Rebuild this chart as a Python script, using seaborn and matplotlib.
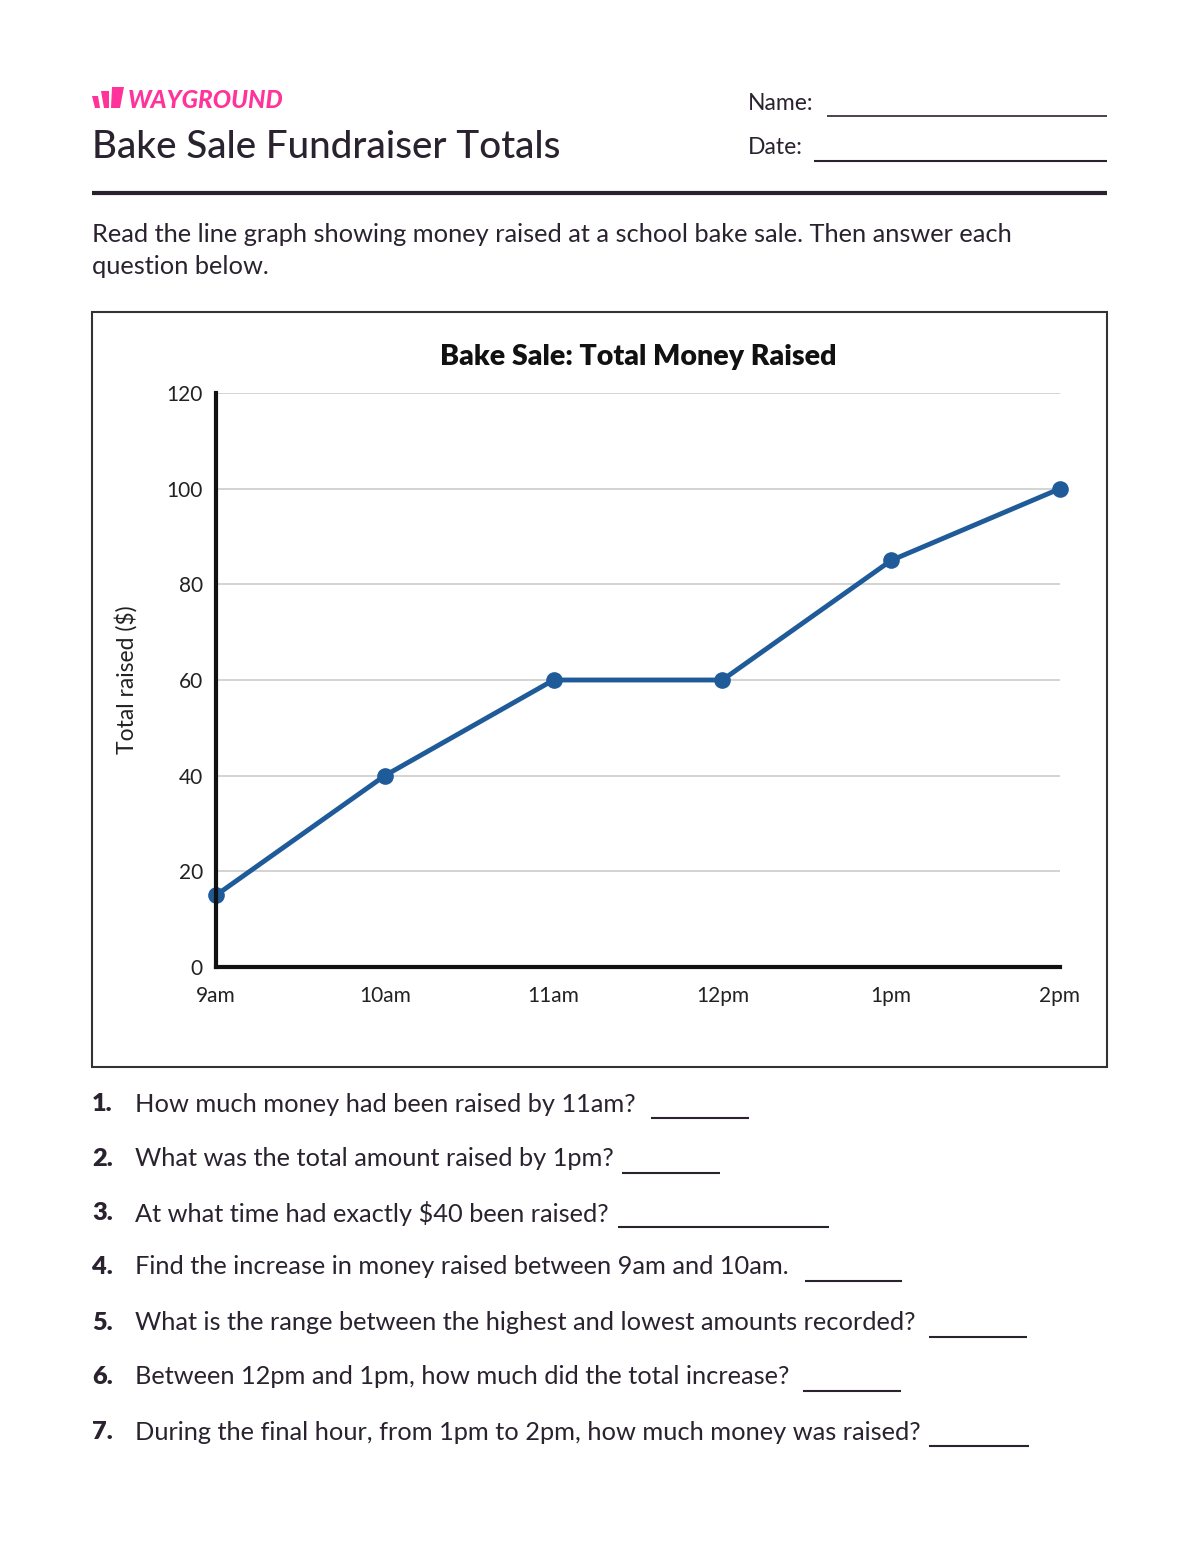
import matplotlib
matplotlib.use('Agg')
import matplotlib.pyplot as plt
import seaborn as sns
import pandas as pd
from matplotlib.lines import Line2D
from matplotlib.patches import Polygon

# data
times = ['9am', '10am', '11am', '12pm', '1pm', '2pm']
totals = [15, 40, 60, 60, 85, 100]
y_ticks = [0, 20, 40, 60, 80, 100, 120]

questions = [
    'How much money had been raised by 11am?',
    'What was the total amount raised by 1pm?',
    'At what time had exactly $40 been raised?',
    'Find the increase in money raised between 9am and 10am.',
    'What is the range between the highest and lowest amounts recorded?',
    'Between 12pm and 1pm, how much did the total increase?',
    'During the final hour, from 1pm to 2pm, how much money was raised?',
]

df = pd.DataFrame({'time': times, 'total': totals})

sns.set_theme(style='white')
plt.rcParams['font.family'] = ['Lato', 'DejaVu Sans']

W, H = 1200, 1552
fig = plt.figure(figsize=(12, 15.52), dpi=100)
ink = '#2b2230'
pink = '#ff3399'
line_col = '#1f5b99'

def fx(x):
    return x / W

def fy(y):
    return 1 - y / H

def hline(x0, x1, y, lw=1.5, color=ink):
    fig.add_artist(Line2D([fx(x0), fx(x1)], [fy(y), fy(y)], transform=fig.transFigure,
                          color=color, lw=lw, solid_capstyle='butt'))

# header: logo
for pts in ([(92, 96), (98, 96), (100, 108), (95, 108)],
            [(101, 91), (109, 91), (109, 108), (104, 108)],
            [(112, 87), (124, 87), (120, 108), (111, 108)]):
    fig.add_artist(Polygon([(fx(a), fy(b)) for a, b in pts], closed=True,
                           transform=fig.transFigure, color=pink, lw=0))
fig.text(fx(128), fy(101), 'WAYGROUND', color=pink, fontsize=17.5, fontweight='black',
         style='italic', va='center', ha='left')
fig.text(fx(92), fy(147), 'Bake Sale Fundraiser Totals', color=ink, fontsize=27.8,
         va='center', ha='left', fontweight='medium')

fig.text(fx(748), fy(104), 'Name:', color=ink, fontsize=16.5, va='center')
hline(827, 1107, 116, lw=1.2)
fig.text(fx(748), fy(148), 'Date:', color=ink, fontsize=16.5, va='center')
hline(814, 1107, 161, lw=1.5)
hline(92, 1107, 193, lw=3)

fig.text(fx(92), fy(235), 'Read the line graph showing money raised at a school bake sale. Then answer each',
         color=ink, fontsize=18.3, va='center')
fig.text(fx(92), fy(267), 'question below.', color=ink, fontsize=18.3, va='center')

# chart frame
fig.add_artist(plt.Rectangle((fx(92), fy(1067)), fx(1107 - 92), (1067 - 312) / H,
                             transform=fig.transFigure, fill=False, ec='#333333', lw=1.5))

ax = fig.add_axes([fx(216), fy(967), fx(1060 - 216), (967 - 393) / H])
sns.lineplot(data=df, x='time', y='total', ax=ax, color=line_col, lw=3.5, sort=False,
             marker='o', markersize=12, markeredgewidth=0)
ax.set_xlim(0, len(times) - 1)
ax.set_ylim(0, 120)
ax.set_yticks(y_ticks)
ax.grid(axis='y', color='#cccccc', lw=1.2)
ax.grid(axis='x', visible=False)
for s in ['top', 'right']:
    ax.spines[s].set_visible(False)
for s in ['left', 'bottom']:
    ax.spines[s].set_color('#111111')
    ax.spines[s].set_linewidth(3)
ax.tick_params(axis='both', length=0, labelsize=15, labelcolor='#222222')
ax.tick_params(axis='y', pad=9.5)
ax.tick_params(axis='x', pad=14)
ax.set_xlabel('')
ax.set_ylabel('Total raised ($)', fontsize=16.5, color='#222222', labelpad=21)
ax.set_title('Bake Sale: Total Money Raised', fontsize=20.5, fontweight='heavy',
             color='#111111', pad=20)
for line in ax.lines:
    line.set_clip_on(False)

# questions
q_y = [1102, 1157, 1211, 1265, 1321, 1375, 1430]
blanks = [(651, 749), (622, 720), (618, 829), (805, 902), (929, 1027), (803, 901), (929, 1029)]
for i, (q, y, b) in enumerate(zip(questions, q_y, blanks)):
    fig.text(fx(92), fy(y + 2), f'{i + 1}.', color=ink, fontsize=18.3, fontweight='heavy', va='center')
    fig.text(fx(135), fy(y + 2), q, color=ink, fontsize=18.3, va='center')
    hline(b[0], b[1], y + 16, lw=1.5)

fig.savefig('out.png', dpi=100, facecolor='white')
